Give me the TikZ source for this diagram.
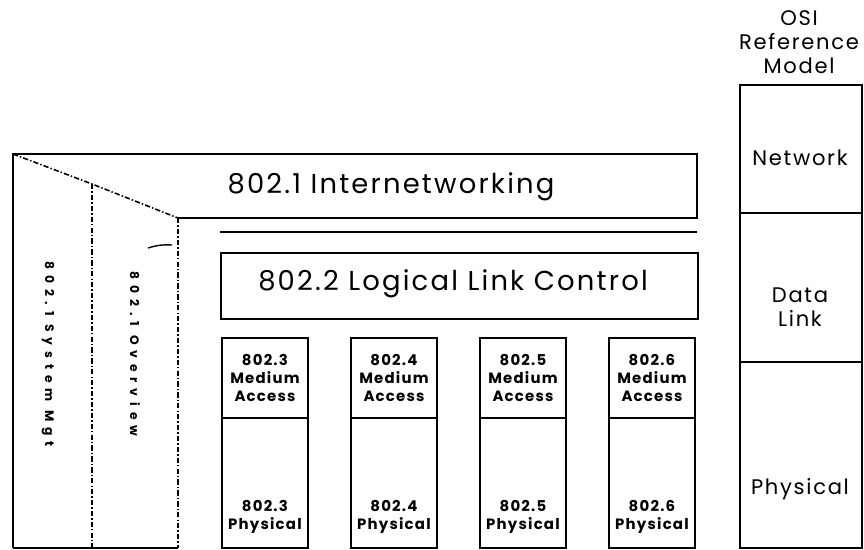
\documentclass[tikz,border=0pt]{standalone}
\usepackage{fontspec}
\setmainfont{Poppins}[LetterSpace=8]
\begin{document}
\begin{tikzpicture}[x=0.02cm, y=-0.02cm,
  frame/.style={line width=1.1pt},
  fold/.style={line width=0.9pt, dash pattern=on 3pt off 1.2pt on 0.8pt off 1.2pt},
  box/.style={draw, line width=1.1pt, inner sep=0pt, anchor=north west},
  mac/.style={box, minimum width=1.72cm, align=center,
              font=\bfseries\fontsize{8.5}{10.2}\selectfont},
  osi/.style={box, minimum width=2.44cm, align=center},
  osilbl/.style={align=center, font=\fontsize{12}{13.6}\selectfont},
  biglbl/.style={font=\fontsize{15.6}{18}\selectfont},
  side/.style={rotate=-90, font=\bfseries\fontsize{7}{8}\selectfont\addfontfeatures{LetterSpace=48}}
]
  \useasboundingbox (0,0) rectangle (864,549);

  % 802.1 frame with folded left part
  \coordinate (tl) at (13,154);
  \coordinate (fm) at (92,184);
  \coordinate (fi) at (178,218);
  \draw[frame] (13,548) -- (tl) -- (697,154) -- (697,218) -- (fi);
  \draw[frame] (13,548) -- (178,548);
  \draw[fold] (tl) -- (fm) -- (fi);
  \draw[fold] (fm) -- (92,548);
  \draw[fold] (fi) -- (178,548);
  \node[biglbl] (inet) at (391,187) {802.1 Internetworking};
  \node[side] (sysmgt) at (48,354) {802.1 System Mgt};
  \node[side] (overview) at (135,354) {802.1 Overview};
  \draw[line width=0.8pt] (148,248) to[bend left=10] (172,245);

  % 802.2 LLC
  \draw[line width=0.9pt] (220,232) -- (697,232);
  \node[box, minimum width=9.54cm, minimum height=1.32cm] (llc) at (220,252) {};
  \node[biglbl] (llctext) at (453,284) {802.2 Logical Link Control};

  % 802.3 .. 802.6 columns
  \foreach \i in {3,4,5,6} {
    \node[mac, minimum height=1.6cm] (mac\i) at ({221+(\i-3)*129},337)
      {802.\i\\Medium\\Access};
    \node[mac, minimum height=2.6cm] (phy\i) at ({221+(\i-3)*129},417) {};
    \node[mac, draw=none, anchor=south] (phytext\i) at ([yshift=0.3cm]phy\i.south)
      {802.\i\\Physical};
  }

  % OSI reference model
  \node[osilbl] (osititle) at (799,42) {OSI\\Reference\\Model};
  \node[osi, minimum height=2.56cm] (osinet) at (739,84) {};
  \node[osi, minimum height=2.98cm] (osidl) at (739,212) {};
  \node[osi, minimum height=3.72cm] (osiphy) at (739,361) {};
  \node[osilbl] (nettext) at (800,158) {Network};
  \node[osilbl] (dltext) at (800,307) {Data\\Link};
  \node[osilbl] (phytext) at (800,489) {Physical};
\end{tikzpicture}
\end{document}
